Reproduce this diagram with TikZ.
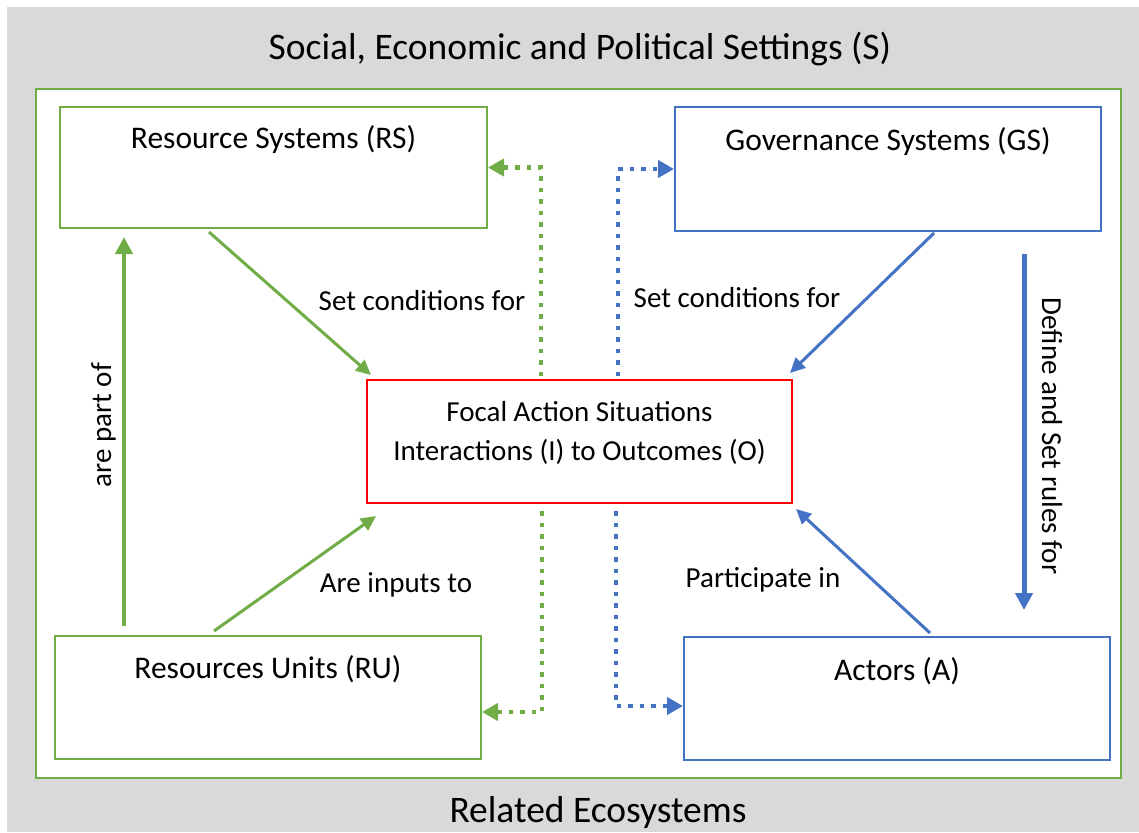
\documentclass[tikz,border=0pt]{standalone}
\usepackage{fontspec}
\setmainfont{Carlito}
\usetikzlibrary{arrows.meta}

\definecolor{sesgreen}{HTML}{70AD47}
\definecolor{sesblue}{HTML}{4472C4}
\definecolor{sesgray}{HTML}{D9D9D9}

\begin{document}
\begin{tikzpicture}[x=1pt,y=-1pt,
  box/.style={draw,line width=2pt,inner sep=0pt,align=flush center,font=\fontsize{31.5}{38}\selectfont},
  lbl/.style={anchor=base,font=\fontsize{29}{35}\selectfont},
  title/.style={anchor=base,font=\fontsize{37.5}{45}\selectfont},
  garrow/.style={sesgreen,line width=3pt,-{Triangle[length=15pt,width=14pt]}},
  barrow/.style={sesblue,line width=3pt,-{Triangle[length=15pt,width=14pt]}},
  gdot/.style={sesgreen,line width=4.5pt,dash pattern=on 4.5pt off 7pt,-{Triangle[length=16pt,width=17pt]}},
  bdot/.style={sesblue,line width=4.5pt,dash pattern=on 4.5pt off 7pt,-{Triangle[length=16pt,width=17pt]}}]
\useasboundingbox (0,0) rectangle (1139,832);
\fill[sesgray] (7,7) rectangle (1139,832);
\draw[sesgreen,line width=2.5pt,fill=white] (36,89) rectangle (1121,778);

\node[title] (settings) at (580,60) {Social, Economic and Political Settings (S)};
\node[title] (ecosys) at (598,822) {Related Ecosystems};

% the five boxes
\node[box,draw=sesgreen,text width=427pt,text height=41pt,text depth=80pt] (rs) at (273.5,167.5) {Resource Systems (RS)};
\node[box,draw=sesblue,text width=426pt,text height=43pt,text depth=81pt] (gs) at (888,169) {Governance Systems (GS)};
\node[box,draw=sesgreen,text width=426pt,text height=42pt,text depth=81pt] (ru) at (268,697.5) {Resources Units (RU)};
\node[box,draw=sesblue,text width=426pt,text height=43pt,text depth=80pt] (a) at (897,698.5) {Actors (A)};
\node[box,draw=red,text width=425pt,text height=41pt,text depth=82pt,font=\fontsize{29}{39}\selectfont] (focal) at (579.5,441.5)
  {Focal Action Situations\\Interactions (I) to Outcomes (O)};

% solid links
\draw[garrow] ([xshift=150pt,yshift=-3pt]rs.south west) -- ([xshift=5pt,yshift=4pt]focal.north west);
\draw[garrow] ([xshift=160pt,yshift=4pt]ru.north west) -- ([xshift=10pt,yshift=-12pt]focal.south west);
\draw[garrow,line width=4.5pt,-{Triangle[length=17pt,width=17pt]}] ([xshift=70pt,yshift=9pt]ru.north west) -- ([xshift=65pt,yshift=-8pt]rs.south west);
\draw[barrow] ([xshift=260pt,yshift=-1pt]gs.south west) -- ([xshift=-3pt,yshift=6pt]focal.north east);
\draw[barrow] ([xshift=247pt,yshift=3pt]a.north west) -- ([xshift=3pt,yshift=-5pt]focal.south east);
\draw[barrow,line width=5pt,-{Triangle[length=17pt,width=17pt]}] ([xshift=-78pt,yshift=-22pt]gs.south east) -- ([xshift=-87pt,yshift=26pt]a.north east);

% dotted feedback links
\draw[gdot] ([xshift=175pt,yshift=3pt]focal.north west) |- (rs.east);
\draw[bdot] ([xshift=252pt,yshift=3pt]focal.north west) |- (gs.west);
\draw[gdot] ([xshift=176pt,yshift=-7pt]focal.south west) |- ([yshift=-14.5pt]ru.east);
\draw[bdot] ([xshift=250pt,yshift=-7pt]focal.south west) |- ([yshift=-7.5pt]a.west);

% link labels
\node[lbl] (setrs) at (422,310) {Set conditions for};
\node[lbl] (setgs) at (737,307) {Set conditions for};
\node[lbl] (inputs) at (396,592) {Are inputs to};
\node[lbl] (partic) at (763,587) {Participate in};
\node[lbl,rotate=90] (partof) at (111,425) {are part of};
\node[lbl,rotate=-90] (rules) at (1042,436) {Define and Set rules for};
\end{tikzpicture}
\end{document}
